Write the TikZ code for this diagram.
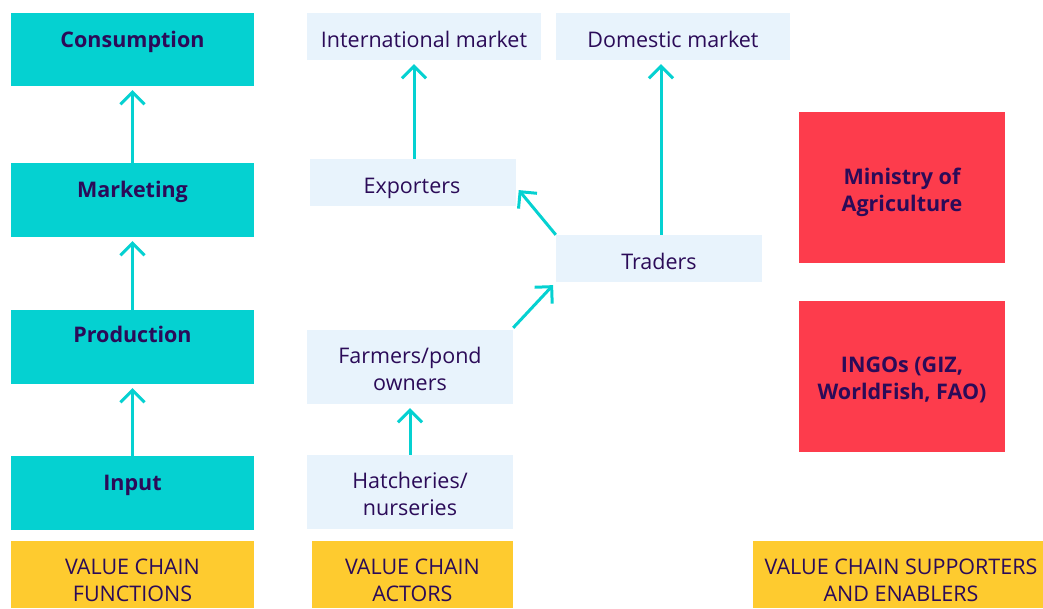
\documentclass[tikz,border=0pt]{standalone}
\usepackage{fontspec}
\setmainfont{Open Sans}
\usetikzlibrary{arrows.meta}
\definecolor{teal1}{HTML}{05D1D1}
\definecolor{txt}{HTML}{2B0B58}
\definecolor{lblue}{HTML}{E8F3FC}
\definecolor{red1}{HTML}{FD3C4C}
\definecolor{yel}{HTML}{FECB2F}
\tikzset{
  fn/.style={fill=teal1, draw=none, inner sep=0pt},
  actor/.style={fill=lblue, draw=none, inner sep=0pt},
  sup/.style={fill=red1, draw=none, inner sep=0pt},
  hdr/.style={fill=yel, draw=none, inner sep=0pt},
  lbl/.style={text=txt, align=center, inner sep=0pt, anchor=base, font=\fontsize{21.5}{27}\selectfont},
  blbl/.style={lbl, font=\fontsize{21.5}{27}\selectfont\bfseries},
  arr/.style={draw=teal1, line width=3pt, -{Straight Barb[length=12pt,width=24pt,line width=3pt]}, shorten >=4pt},
}
\begin{document}
\begin{tikzpicture}[x=1pt,y=-1pt]
\useasboundingbox (0,0) rectangle (1043,608);
% functions
\node[fn, minimum width=243pt, minimum height=73pt] (cons) at (132.5,49.5) {};
\node[fn, minimum width=243pt, minimum height=74pt] (mark) at (132.5,200) {};
\node[fn, minimum width=243pt, minimum height=74pt] (prod) at (132.5,347) {};
\node[fn, minimum width=243pt, minimum height=74pt] (inp) at (132.5,493) {};
\node[blbl] at (132.5,47.5) {Consumption};
\node[blbl] at (132.5,197.5) {Marketing};
\node[blbl] at (132.5,342.5) {Production};
\node[blbl] at (132.5,490.5) {Input};
% headers
\node[hdr, minimum width=243pt, minimum height=67pt] (h1) at (132.5,574.5) {};
\node[hdr, minimum width=201pt, minimum height=67pt] (h2) at (412.5,574.5) {};
\node[hdr, minimum width=290pt, minimum height=67pt] (h3) at (898,574.5) {};
\node[lbl] at (132.5,601.5) {VALUE CHAIN\\FUNCTIONS};
\node[lbl] at (412.5,601.5) {VALUE CHAIN\\ACTORS};
\node[lbl] at (901,601.5) {VALUE CHAIN SUPPORTERS\\AND ENABLERS};
% actors
\node[actor, minimum width=234pt, minimum height=47pt] (intl) at (424,36.5) {};
\node[actor, minimum width=234pt, minimum height=47pt] (dom) at (673,36.5) {};
\node[actor, minimum width=206pt, minimum height=47pt] (exp) at (413,182.5) {};
\node[actor, minimum width=206pt, minimum height=47pt] (trad) at (659,258.5) {};
\node[actor, minimum width=206pt, minimum height=74pt] (farm) at (410,367) {};
\node[actor, minimum width=206pt, minimum height=74pt] (hatch) at (410,492) {};
\node[lbl] at (424,47.5) {International market};
\node[lbl] at (673,47.5) {Domestic market};
\node[lbl] at (412,193.5) {Exporters};
\node[lbl] at (659,269.5) {Traders};
\node[lbl] at (410,390.5) {Farmers/pond\\owners};
\node[lbl] at (410,515.5) {Hatcheries/\\nurseries};
% supporters
\node[sup, minimum width=206pt, minimum height=151pt] (min) at (902,187.5) {};
\node[sup, minimum width=206pt, minimum height=151pt] (ingo) at (902,376.5) {};
\node[blbl] at (902,211.5) {Ministry of\\Agriculture};
\node[blbl] at (902,399.5) {INGOs (GIZ,\\WorldFish, FAO)};
% arrows
\draw[arr] (mark.north) -- (cons.south);
\draw[arr] (prod.north) -- (mark.south);
\draw[arr] (inp.north) -- (prod.south);
\draw[arr] (hatch.north) -- (farm.south);
\draw[arr] (exp.north -| 414,0) -- (intl.south -| 414,0);
\draw[arr] (trad.north -| 661,0) -- (dom.south -| 661,0);
\draw[arr] (trad.north west) -- (exp.east |- 0,187);
\draw[arr] (farm.north east) ++(0,-2) coordinate (fa) (fa) -- (trad.south west);
\end{tikzpicture}
\end{document}
